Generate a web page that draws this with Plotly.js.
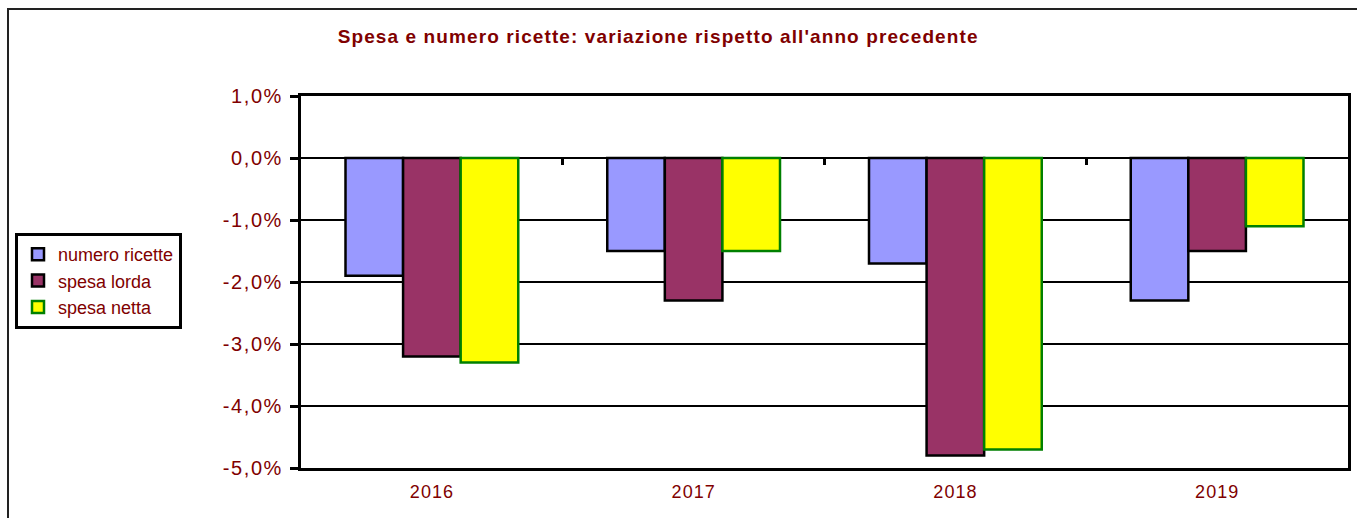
<!DOCTYPE html>
<html>
<head>
<meta charset="utf-8">
<script src="https://cdn.plot.ly/plotly-3.0.1.min.js"></script>
<style>
  html, body { margin: 0; padding: 0; background: #fff; }
  #wrap { position: relative; width: 1357px; height: 518px; overflow: hidden; }
  #frame { position: absolute; left: 7px; top: 8px; width: 1400px; height: 600px;
           border-left: 2px solid #222; border-top: 2px solid #222; pointer-events: none; }
  #chart { position: absolute; left: 0; top: 0; width: 1357px; height: 518px; }
  #chart .gtitle { letter-spacing: 1.1px; }
  #chart .ytick text { letter-spacing: 1.6px; }
  #chart .xtick text { letter-spacing: 1px; }
</style>
</head>
<body>
<div id="wrap">
  <div id="chart"></div>
  <div id="frame"></div>
</div>
<script>
const years = ['2016', '2017', '2018', '2019'];
const numeroRicette = [-1.9, -1.5, -1.7, -2.3];
const spesaLorda = [-3.2, -2.3, -4.8, -1.5];
const spesaNetta = [-3.3, -1.5, -4.7, -1.1];
const yTicks = [1, 0, -1, -2, -3, -4, -5];
const yTickLabels = ['1,0%', '0,0%', '-1,0%', '-2,0%', '-3,0%', '-4,0%', '-5,0%'];
const boundaryTicks = [0.5, 1.5, 2.5];
const boundaryZero = [0, 0, 0];

const red = '#800000';
const fontFam = 'Arial, "Liberation Sans", sans-serif';

const traces = [
  { type: 'bar', name: 'numero ricette', x: years, y: numeroRicette, legendgroup: 'a',
    marker: { color: '#9999FF', line: { color: '#000', width: 2.5 } } },
  { type: 'bar', name: 'spesa lorda', x: years, y: spesaLorda, legendgroup: 'b',
    marker: { color: '#993366', line: { color: '#000', width: 2.5 } } },
  { type: 'bar', name: 'spesa netta', x: years, y: spesaNetta, legendgroup: 'c',
    marker: { color: '#FFFF00', line: { color: '#008000', width: 2.5 } } },
  { type: 'scatter', mode: 'none', x: boundaryTicks, y: boundaryZero,
    xaxis: 'x2', yaxis: 'y', showlegend: false, hoverinfo: 'skip' }
];

const layout = {
  width: 1357, height: 518,
  margin: { l: 301, r: 9, t: 96, b: 50 },
  paper_bgcolor: 'rgba(0,0,0,0)', plot_bgcolor: '#fff',
  barmode: 'group', bargap: 0.34, bargroupgap: 0,
  hovermode: false,
  font: { family: fontFam, color: red },
  title: {
    text: "<b>Spesa e numero ricette: variazione rispetto all'anno precedente</b>",
    font: { family: fontFam, size: 19, color: red },
    x: 0.485, xref: 'container', xanchor: 'center',
    y: 1 - 36 / 518, yref: 'container', yanchor: 'middle'
  },
  xaxis: {
    type: 'category', range: [-0.5, 3.5],
    showline: true, linecolor: '#000', linewidth: 3, mirror: true,
    ticks: '', showgrid: false, zeroline: false,
    tickfont: { family: fontFam, size: 18, color: red },
    ticklabelstandoff: 5
  },
  xaxis2: {
    type: 'linear', range: [-0.5, 3.5], overlaying: 'x',
    anchor: 'free', position: 5 / 6, side: 'bottom',
    tickvals: boundaryTicks, ticks: 'outside', ticklen: 6, tickwidth: 3, tickcolor: '#000',
    showticklabels: false, showgrid: false, showline: false, zeroline: false
  },
  yaxis: {
    range: [-5, 1], tickvals: yTicks, ticktext: yTickLabels,
    showline: true, linecolor: '#000', linewidth: 3, mirror: true,
    ticks: 'outside', ticklen: 8, tickwidth: 3, tickcolor: '#000',
    showgrid: true, gridcolor: '#000', gridwidth: 2, zeroline: false,
    tickfont: { family: fontFam, size: 20, color: red },
    ticklabelstandoff: 3
  },
  showlegend: true,
  legend: {
    x: (15 - 301) / 1047, xanchor: 'left',
    y: (468 - 233) / 372, yanchor: 'top',
    bgcolor: '#fff', bordercolor: '#000', borderwidth: 3,
    font: { family: fontFam, size: 18, color: red },
    tracegroupgap: 16, itemwidth: 30, traceorder: 'normal'
  }
};

Plotly.newPlot('chart', traces, layout, { displayModeBar: false, staticPlot: true });
</script>
</body>
</html>
